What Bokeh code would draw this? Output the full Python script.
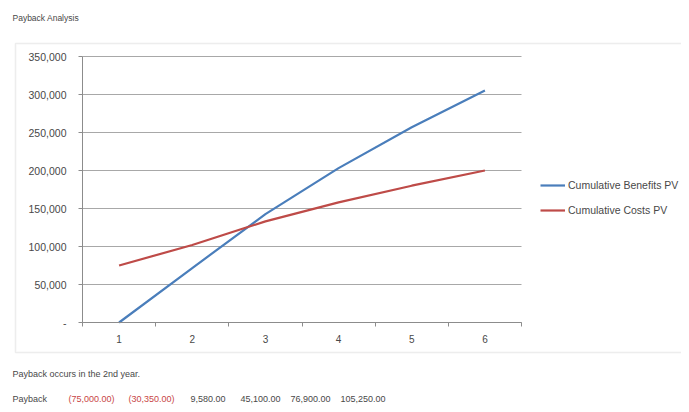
from bokeh.plotting import figure
from bokeh.models import (Range1d, FixedTicker, CustomJSTickFormatter, Legend, LegendItem,
                          Label, BoxAnnotation)
from bokeh.embed import file_html
from bokeh.resources import INLINE

# ---- data ----
years = [1, 2, 3, 4, 5, 6]
year_labels = ["1", "2", "3", "4", "5", "6"]
benefits_pv = [0, 71650, 142580, 203100, 256900, 305250]
costs_pv = [75000, 102000, 133000, 158000, 180000, 200000]
payback = [-75000, -30350, 9580, 45100, 76900, 105250]
y_ticks = [0, 50000, 100000, 150000, 200000, 250000, 300000, 350000]
title_text = "Payback Analysis"
note_text = "Payback occurs in the 2nd year."
row_label = "Payback"
series_names = ["Cumulative Benefits PV", "Cumulative Costs PV"]

FONT = "Liberation Sans"
TXT = "#484848"
W, H = 681, 404
# plot area in canvas pixels (left, right, top, bottom)
PL, PR, PT, PB = 82, 521, 56, 322
X0, X1 = 0.5, 6.5
Y0, Y1 = 0, 350000

# the frame spans the whole canvas; ranges are chosen so that the data box
# [X0, X1] x [Y0, Y1] lands on the plot area
sx = (PR - PL) / (X1 - X0)
sy = (PB - PT) / (Y1 - Y0)
x_range = Range1d(X0 - PL / sx, X1 + (W - PR) / sx)
y_range = Range1d(Y0 - (H - PB) / sy, Y1 + PT / sy)

p = figure(width=W, height=H, output_backend="svg", toolbar_location=None,
           x_range=x_range, y_range=y_range,
           min_border=0, min_border_left=0, min_border_right=0,
           min_border_top=0, min_border_bottom=0)
p.outline_line_color = None
p.background_fill_color = "white"
p.border_fill_color = "white"
p.grid.visible = False

# outer chart box (open on the right, as in the reference)
p.add_layout(BoxAnnotation(left=15, right=W + 20, top=H - 43, bottom=H - 352,
                           left_units="screen", right_units="screen",
                           top_units="screen", bottom_units="screen",
                           fill_alpha=0, line_color="#c4c4c4", line_width=1.5))

# horizontal gridlines limited to the plot area
p.segment(x0=[X0] * len(y_ticks), x1=[X1] * len(y_ticks), y0=y_ticks, y1=y_ticks,
          line_color="#a8a8a8", line_width=1)

# x axis (fixed at y = 0)
xa = p.xaxis[0]
xa.fixed_location = Y0
xa.bounds = (X0, X1)
xa.ticker = FixedTicker(ticks=years, minor_ticks=[0.5, 1.5, 2.5, 3.5, 4.5, 5.5, 6.5])
xa.major_label_overrides = {y: l for y, l in zip(years, year_labels)}
xa.major_tick_line_color = None
xa.minor_tick_out = 4
xa.minor_tick_in = 0
xa.minor_tick_line_color = "#8c8c8c"
xa.axis_line_color = "#8c8c8c"
xa.major_label_text_font = FONT
xa.major_label_text_font_size = "10px"
xa.major_label_text_color = TXT
xa.major_label_standoff = 6

# y axis (fixed at x = 0.5)
ya = p.yaxis[0]
ya.fixed_location = X0
ya.bounds = (Y0, Y1)
ya.ticker = FixedTicker(ticks=y_ticks)
ya.formatter = CustomJSTickFormatter(
    code='return tick == 0 ? "-" : tick.toLocaleString("en-US");')
ya.minor_tick_line_color = None
ya.major_tick_out = 4
ya.major_tick_in = 0
ya.major_tick_line_color = "#8c8c8c"
ya.axis_line_color = "#8c8c8c"
ya.major_label_text_font = FONT
ya.major_label_text_font_size = "10.5px"
ya.major_label_text_color = TXT
ya.major_label_standoff = 12

r1 = p.line(years, benefits_pv, line_color="#4a7ebb", line_width=2.2)
r2 = p.line(years, costs_pv, line_color="#be4b48", line_width=2.2)

legend = Legend(items=[LegendItem(label=series_names[0], renderers=[r1]),
                       LegendItem(label=series_names[1], renderers=[r2])],
                location=(540, H - 216), orientation="vertical",
                padding=0, margin=0, spacing=13, glyph_width=25, glyph_height=12,
                label_height=12, label_standoff=3,
                label_text_font=FONT, label_text_font_size="10.5px",
                label_text_color=TXT,
                border_line_color=None, background_fill_alpha=0)
p.add_layout(legend, "center")


def add_text(txt, xc, yc, color=TXT, size="9px"):
    # xc, yc: canvas pixels from the top-left corner
    p.add_layout(Label(x=xc, y=H - yc, x_units="screen", y_units="screen",
                       text=txt, text_font=FONT, text_font_size=size,
                       text_color=color, text_baseline="middle", text_align="left"))


def fmt(v):
    s = f"{abs(v):,.2f}"
    return f"({s})" if v < 0 else s


add_text(title_text, 12, 17, size="8.5px")
add_text(note_text, 12, 373)
add_text(row_label, 12, 398)
value_x = [68, 128, 190, 240, 290, 340]
for v, xc in zip(payback, value_x):
    add_text(fmt(v), xc, 398, color="#c84646" if v < 0 else TXT)

open("out.html", "w").write(file_html(p, INLINE))
